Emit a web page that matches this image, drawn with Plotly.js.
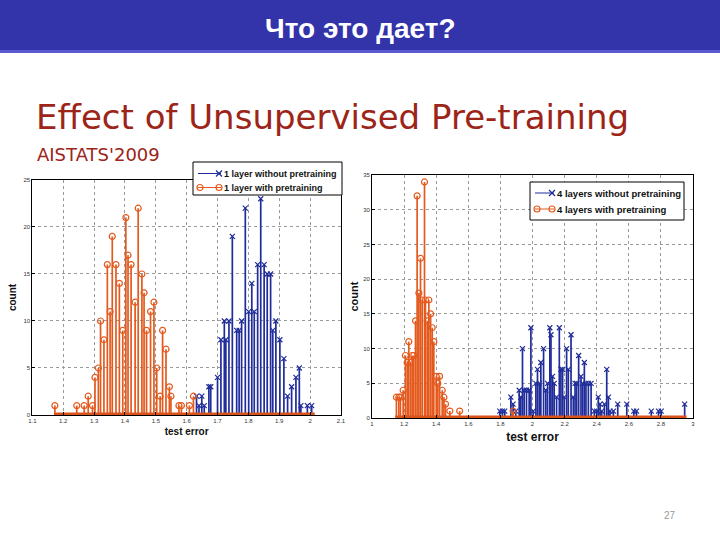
<!DOCTYPE html>
<html>
<head>
<meta charset="utf-8">
<script src="https://cdn.plot.ly/plotly-3.0.1.min.js"></script>
<style>html,body{margin:0;padding:0;background:#fff;}#chart{width:720px;height:540px;}</style>
</head>
<body>
<div id="chart"></div>
<script>
// ---- Left panel: 1 layer ----
const leftPreX = [1.173,1.244,1.268,1.281,1.295,1.303,1.314,1.321,1.332,1.343,1.352,1.359,1.371,1.382,1.393,1.403,1.41,1.42,1.433,1.443,1.455,1.462,1.47,1.483,1.494,1.503,1.514,1.522,1.533,1.544,1.549,1.575,1.583,1.609,1.622];
const leftPreY = [1,1,1,2,1,4,5,10,8,16,11,19,16,14,9,21,17,16,12,22,15,13,9,11,12,5,2,9,7,3,2,1,1,1,2];
const leftNoX = [1.632,1.640,1.649,1.657,1.672,1.678,1.700,1.711,1.722,1.727,1.737,1.748,1.762,1.770,1.778,1.790,1.801,1.811,1.819,1.830,1.840,1.851,1.861,1.872,1.879,1.889,1.902,1.915,1.927,1.940,1.954,1.965,1.970,1.991,2.005];
const leftNoY = [2,1,2,1,3,3,4,8,10,8,10,19,9,9,10,22,11,14,11,16,23,16,15,15,9,10,8,6,2,3,4,5,1,1,1];
const leftBaseX = [1.17, 2.015];
const leftXTicks = [1.1,1.2,1.3,1.4,1.5,1.6,1.7,1.8,1.9,2,2.1];
const leftXText = ["1.1","1.2","1.3","1.4","1.5","1.6","1.7","1.8","1.9","2","2.1"];
const leftYTicks = [0,5,10,15,20,25];
const leftNames = ['1 layer without pretraining', '1 layer with pretraining'];

// ---- Right panel: 4 layers ----
const rightPreX = [1.152,1.167,1.177,1.194,1.208,1.219,1.229,1.240,1.25,1.26,1.271,1.281,1.292,1.302,1.3125,1.327,1.333,1.344,1.354,1.365,1.375,1.385,1.4,1.41,1.421,1.4375,1.448,1.458,1.485,1.546,1.879];
const rightPreY = [3,3,3,4,9,8,11,8,9,9,14,32,18,23,17,34,17,14,17,15,13,11,6,5,6,4,3,2,1,1,1];
const rightNoX = [1.796,1.8125,1.827,1.865,1.879,1.896,1.917,1.927,1.9375,1.948,1.9625,1.979,1.99,2.004,2.021,2.031,2.042,2.052,2.069,2.083,2.094,2.108,2.115,2.125,2.135,2.15,2.167,2.177,2.1875,2.198,2.2125,2.223,2.24,2.254,2.265,2.275,2.2875,2.302,2.3125,2.323,2.333,2.348,2.365,2.385,2.4,2.41,2.421,2.431,2.448,2.4625,2.473,2.483,2.504,2.531,2.5875,2.631,2.648,2.74,2.785,2.802,2.948];
const rightNoY = [1,1,1,3,2,1,4,3,10,4,4,4,13,1,5,7,5,8,10,4,5,13,12,6,5,3,13,7,7,3,10,7,12,3,5,5,9,6,5,8,5,5,5,1,1,3,2,1,2,7,3,1,1,2,2,1,1,1,1,1,2];
const rightBaseX = [1.145, 2.96];
const rightXTicks = [1,1.2,1.4,1.6,1.8,2,2.2,2.4,2.6,2.8,3];
const rightXText = ["1","1.2","1.4","1.6","1.8","2","2.2","2.4","2.6","2.8","3"];
const rightYTicks = [0,5,10,15,20,25,30,35];
const rightNames = ['4 layers without pretraining', '4 layers with pretraining'];

const ORANGE = '#e45a1e';
const BLUE = '#1f2c9a';
const FONT = 'Liberation Sans, Arial, sans-serif';

function stems(xs, ys) {
  const sx = [], sy = [];
  xs.forEach((x, i) => { sx.push(x, x, null); sy.push(0, ys[i], null); });
  return {sx, sy};
}

function panelTraces(noX, noY, preX, preY, baseX, xa, ya, names) {
  const sNo = stems(noX, noY), sPre = stems(preX, preY);
  return [
    {type:'scatter', mode:'lines', x:sNo.sx, y:sNo.sy, xaxis:xa, yaxis:ya, line:{color:BLUE, width:1.7}, name:names[0], showlegend:false},
    {type:'scatter', mode:'markers', x:noX, y:noY, xaxis:xa, yaxis:ya, marker:{symbol:'x-thin-open', size:5, line:{color:BLUE, width:1.2}, color:BLUE}, showlegend:false},
    {type:'scatter', mode:'lines', x:sPre.sx, y:sPre.sy, xaxis:xa, yaxis:ya, line:{color:ORANGE, width:1.7}, name:names[1], showlegend:false},
    {type:'scatter', mode:'markers', x:preX, y:preY, xaxis:xa, yaxis:ya, marker:{symbol:'circle-open', size:6, line:{color:ORANGE, width:1.2}, color:ORANGE}, showlegend:false},
    {type:'scatter', mode:'lines', x:baseX, y:[0,0], xaxis:xa, yaxis:ya, line:{color:'#d9531a', width:5}, showlegend:false}
  ];
}

const data = [].concat(
  panelTraces(leftNoX, leftNoY, leftPreX, leftPreY, leftBaseX, 'x', 'y', leftNames),
  panelTraces(rightNoX, rightNoY, rightPreX, rightPreY, rightBaseX, 'x2', 'y2', rightNames)
);

// pixel -> paper helpers for page decorations
const px = v => v / 720, py = v => 1 - v / 540;

// custom MATLAB-like legend box (drawn as layout shapes + annotations)
function legendBox(box, rows, symX0, symX1, textX, fontSize) {
  const shapes = [{type:'rect', xref:'paper', yref:'paper', x0:px(box[0]), x1:px(box[2]), y0:py(box[3]), y1:py(box[1]),
    fillcolor:'#fff', line:{color:'#000', width:1}, layer:'above'}];
  const anns = [];
  rows.forEach(r => {
    shapes.push({type:'line', xref:'paper', yref:'paper', x0:px(symX0), x1:px(symX1), y0:py(r.y), y1:py(r.y), line:{color:r.color, width:1}, layer:'above'});
    const mx = symX1 - 2, s = 3;
    if (r.marker === 'x') {
      shapes.push({type:'line', xref:'paper', yref:'paper', x0:px(mx - s), x1:px(mx + s), y0:py(r.y - s), y1:py(r.y + s), line:{color:r.color, width:1.2}, layer:'above'});
      shapes.push({type:'line', xref:'paper', yref:'paper', x0:px(mx - s), x1:px(mx + s), y0:py(r.y + s), y1:py(r.y - s), line:{color:r.color, width:1.2}, layer:'above'});
    } else {
      [symX0 + 2, mx].forEach(cx => shapes.push({type:'circle', xref:'paper', yref:'paper', x0:px(cx - s), x1:px(cx + s), y0:py(r.y + s), y1:py(r.y - s), line:{color:r.color, width:1.2}, layer:'above'}));
    }
    anns.push({xref:'paper', yref:'paper', x:px(textX), y:py(r.y), text:r.text, showarrow:false, xanchor:'left', yanchor:'middle',
      font:{family:FONT, size:fontSize, color:'#111', weight:'bold'}});
  });
  return {shapes, anns};
}

const legL = legendBox([193, 162, 342, 195], [
  {y:173.5, color:BLUE, marker:'x', text:leftNames[0]},
  {y:187.5, color:ORANGE, marker:'o', text:leftNames[1]}], 198, 221, 222, 9);
const legR = legendBox([530, 182, 684, 220], [
  {y:193, color:BLUE, marker:'x', text:rightNames[0]},
  {y:209, color:ORANGE, marker:'o', text:rightNames[1]}], 535, 554, 555, 9.5);

const axBase = {
  showgrid:true, gridcolor:'#9a9a9a', griddash:'dot', gridwidth:1,
  showline:true, mirror:true, linecolor:'#000', linewidth:1,
  ticks:'inside', ticklen:3, tickcolor:'#000',
  tickfont:{family:FONT, size:6, color:'#333'},
  zeroline:false, automargin:false, fixedrange:true
};

const layout = {
  width:720, height:540,
  margin:{l:0, r:0, t:0, b:0},
  paper_bgcolor:'#fff', plot_bgcolor:'#fff',
  showlegend:false,
  xaxis: Object.assign({}, axBase, {domain:[0.0449, 0.4736], range:[1.1, 2.1], tickvals:leftXTicks, ticktext:leftXText, anchor:'y',
    title:{text:'test error', font:{family:FONT, size:10, color:'#111', weight:'bold'}, standoff:4}}),
  yaxis: Object.assign({}, axBase, {domain:[0.2315, 0.6667], range:[0, 25], tickvals:leftYTicks, anchor:'x',
    title:{text:'count', font:{family:FONT, size:10, color:'#111', weight:'bold'}, standoff:4}}),
  xaxis2: Object.assign({}, axBase, {domain:[0.5167, 0.9625], range:[1, 3], tickvals:rightXTicks, ticktext:rightXText, anchor:'y2',
    title:{text:'test error', font:{family:FONT, size:12, color:'#111', weight:'bold'}, standoff:6}}),
  yaxis2: Object.assign({}, axBase, {domain:[0.2259, 0.6759], range:[0, 35], tickvals:rightYTicks, anchor:'x2',
    title:{text:'count', font:{family:FONT, size:11, color:'#111', weight:'bold'}, standoff:2}}),
  shapes:[
    {type:'rect', xref:'paper', yref:'paper', x0:0, x1:1, y0:py(50), y1:1, fillcolor:'#3333aa', line:{width:0}, layer:'below'},
    {type:'rect', xref:'paper', yref:'paper', x0:0, x1:1, y0:py(53), y1:py(50), fillcolor:'#5a5ad0', line:{width:0}, layer:'below'}
  ].concat(legL.shapes, legR.shapes),
  annotations:[
    {xref:'paper', yref:'paper', x:0.5, y:py(29), text:'Что это дает?', showarrow:false, xanchor:'center', yanchor:'middle',
      font:{family:FONT, size:28, color:'#fff', weight:'bold'}},
    {xref:'paper', yref:'paper', x:px(34), y:py(117), text:'Effect of Unsupervised Pre-training', showarrow:false, xanchor:'left', yanchor:'middle',
      font:{family:'DejaVu Sans, sans-serif', size:34, color:'#9c2418'}},
    {xref:'paper', yref:'paper', x:px(35), y:py(154), text:"AISTATS'2009", showarrow:false, xanchor:'left', yanchor:'middle',
      font:{family:'DejaVu Sans, sans-serif', size:18, color:'#9c2418'}},
    {xref:'paper', yref:'paper', x:px(670), y:py(515), text:'27', showarrow:false, xanchor:'center', yanchor:'middle',
      font:{family:FONT, size:10, color:'#999'}}
  ].concat(legL.anns, legR.anns)
};

Plotly.newPlot('chart', data, layout, {displayModeBar:false, staticPlot:true});
</script>
</body>
</html>
